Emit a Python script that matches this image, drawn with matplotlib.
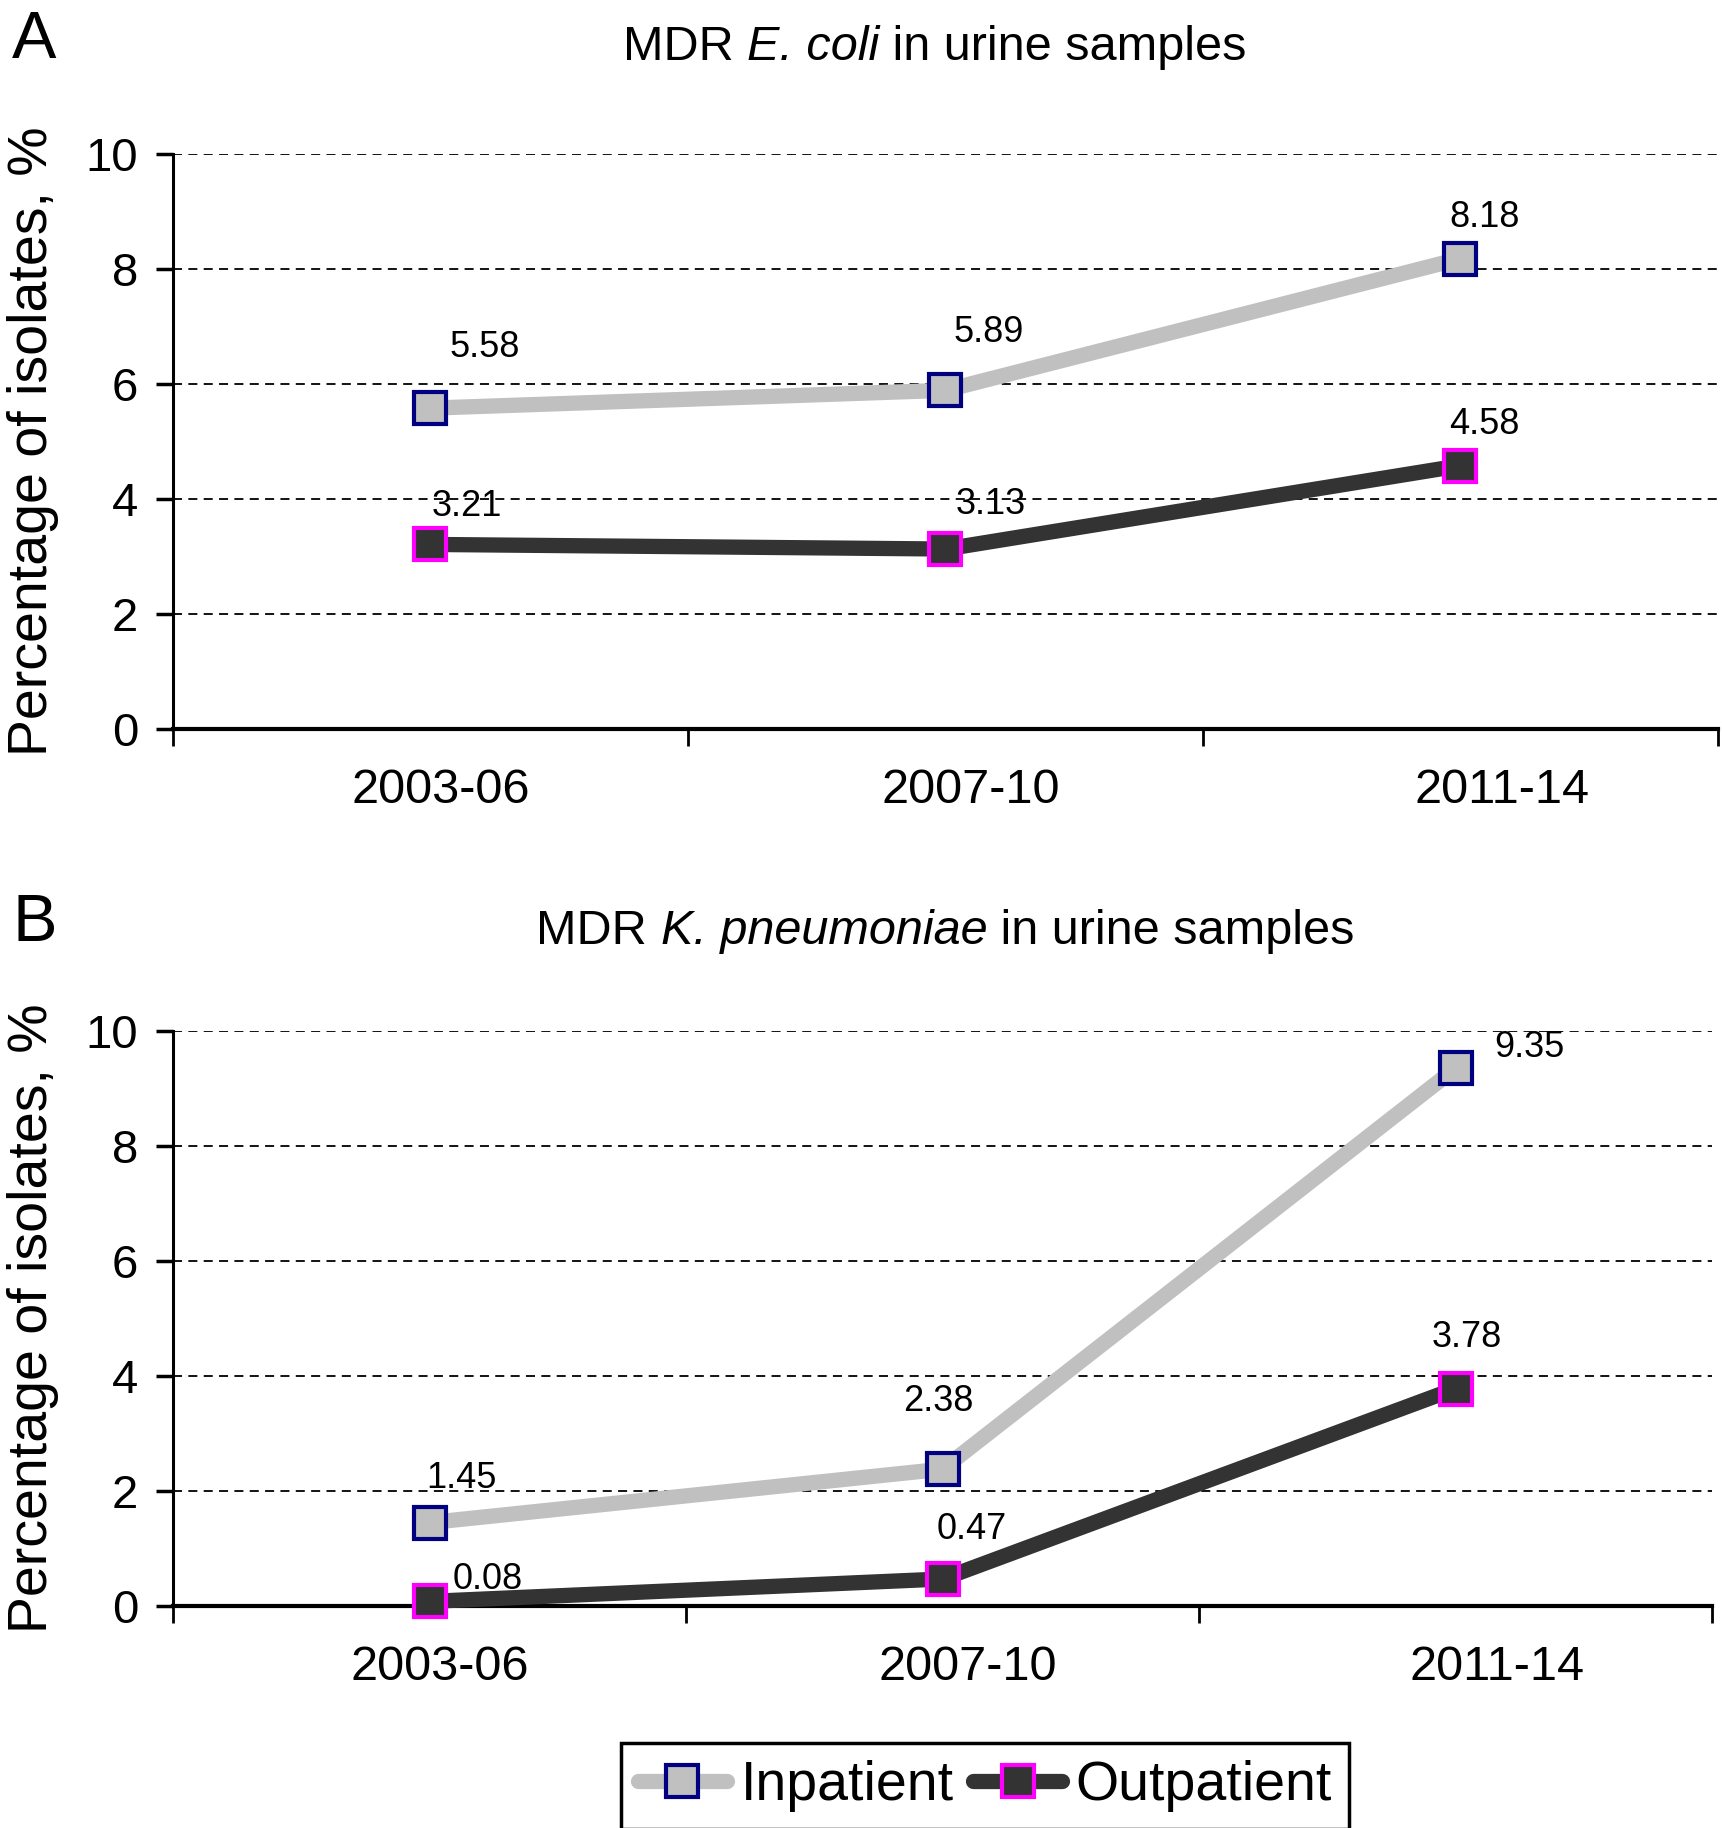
import matplotlib
matplotlib.use("Agg")
import matplotlib.pyplot as plt

plt.rcParams['font.family'] = ['Liberation Sans', 'DejaVu Sans']

# data
periods = ['2003-06', '2007-10', '2011-14']
ecoli_inpatient = [5.58, 5.89, 8.18]
ecoli_outpatient = [3.21, 3.13, 4.58]
kpneu_inpatient = [1.45, 2.38, 9.35]
kpneu_outpatient = [0.08, 0.47, 3.78]

# where the value labels sit, relative to the marker (pixels)
ecoli_in_off = [(54, 61), (43, 58), (24, 41)]
ecoli_out_off = [(36, 38), (45, 45), (24, 41)]
kpneu_in_off = [(32, 44), (-4, 68), (74, 21)]
kpneu_out_off = [(58, 22), (29, 49), (11, 51)]
# the category labels drift right of the points in the original
label_pos = [0.02, 1.05, 2.08]

W, H = 1722, 1828
fig = plt.figure(figsize=(W / 100, H / 100), dpi=100)

in_style = dict(color='#c0c0c0', lw=11, marker='s', ms=23, mfc='#c0c0c0',
                mec='#000080', mew=3, solid_capstyle='round', clip_on=False, zorder=3)
out_style = dict(color='#333333', lw=11, marker='s', ms=23, mfc='#333333',
                 mec='#ff00ff', mew=3, solid_capstyle='round', clip_on=False, zorder=3)

titles = []


def panel(rect, inp, outp, in_off, out_off, title_parts, letter, letter_y, title_y, title_dx):
    ax = fig.add_axes(rect)
    x = range(len(periods))
    l1, = ax.plot(x, inp, label='Inpatient', **in_style)
    l2, = ax.plot(x, outp, label='Outpatient', **out_style)
    for xi, v, o in zip(x, inp, in_off):
        ax.annotate(f'{v:.2f}', (xi, v), xytext=o, textcoords='offset pixels',
                    ha='center', va='center', fontsize=26, zorder=4)
    for xi, v, o in zip(x, outp, out_off):
        ax.annotate(f'{v:.2f}', (xi, v), xytext=o, textcoords='offset pixels',
                    ha='center', va='center', fontsize=26, zorder=4)
    ax.set_xlim(-0.5, 2.5)
    ax.set_ylim(0, 10)
    ax.set_yticks([0, 2, 4, 6, 8, 10])
    ax.set_xticks([-0.5, 0.5, 1.5, 2.5])
    ax.set_xticklabels([])
    ax.set_xticks(label_pos, minor=True)
    ax.set_xticklabels(periods, minor=True)
    ax.tick_params(axis='x', which='major', direction='out', length=12, width=2)
    ax.tick_params(axis='x', which='minor', length=0, pad=28, labelsize=35)
    ax.tick_params(axis='y', direction='out', length=12, width=2.5, pad=13, labelsize=34)
    for gy in [2, 4, 6, 8, 10]:
        ax.axhline(gy, color='black', lw=1.3, ls=(0, (5, 3.5)), zorder=1)
    ax.spines['top'].set_visible(False)
    ax.spines['right'].set_visible(False)
    ax.spines['left'].set_linewidth(2.2)
    ax.spines['bottom'].set_linewidth(3)
    ax.spines['bottom'].set_zorder(2)
    mid = rect[1] + rect[3] / 2
    fig.text(33 / W, mid, 'Percentage of isolates, %', rotation=90,
             ha='center', va='center', fontsize=40)
    fig.text(12 / W, letter_y, letter, ha='left', va='center', fontsize=48)

    # title made of upright and italic pieces placed one after another
    pieces = [fig.text(0, title_y, s, style=st, ha='left', va='center', fontsize=35)
              for s, st in title_parts]
    titles.append((pieces, rect[0] + rect[2] / 2 + title_dx / W, title_y))
    return l1, l2


l1, l2 = panel([173 / W, 1 - 729 / H, 1545 / W, 575 / H],
               ecoli_inpatient, ecoli_outpatient, ecoli_in_off, ecoli_out_off,
               [('MDR ', 'normal'), ('E. coli', 'italic'), (' in urine samples', 'normal')],
               'A', 1 - 41 / H, 1 - 47 / H, -11)
panel([173 / W, 1 - 1606 / H, 1539 / W, 575 / H],
      kpneu_inpatient, kpneu_outpatient, kpneu_in_off, kpneu_out_off,
      [('MDR ', 'normal'), ('K. pneumoniae', 'italic'), (' in urine samples', 'normal')],
      'B', 1 - 924 / H, 1 - 932 / H, 3)

leg = fig.legend([l1, l2], ['Inpatient', 'Outpatient'], ncol=2, loc='center',
                 bbox_to_anchor=(985 / W, 1 - 1786 / H), fontsize=40,
                 handlelength=1.6, handletextpad=0.25, columnspacing=0.35,
                 borderpad=0.3, borderaxespad=0.3, fancybox=False,
                 edgecolor='black', framealpha=1)
leg.get_frame().set_linewidth(2.5)

# lay out the title pieces
fig.canvas.draw()
r = fig.canvas.get_renderer()
for pieces, xc, ty in titles:
    widths = [p.get_window_extent(r).width for p in pieces]
    x0 = xc * W - sum(widths) / 2
    for p, w in zip(pieces, widths):
        p.set_position((x0 / W, ty))
        x0 += w

fig.savefig('out.png', dpi=100)
